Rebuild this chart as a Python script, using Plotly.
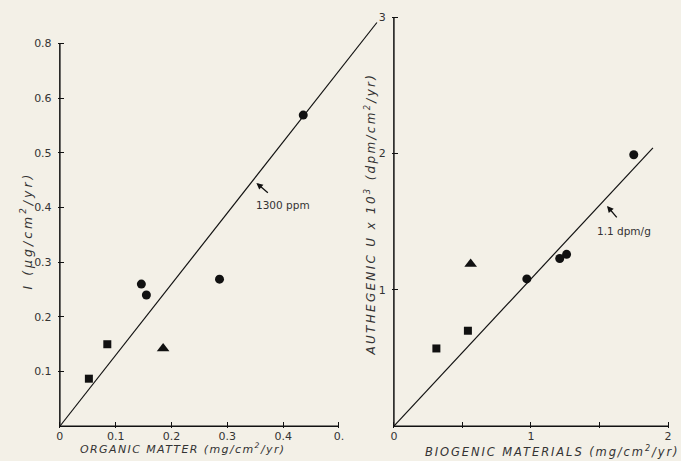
import plotly.graph_objects as go

# ---- data ----
# Left panel: I flux vs organic matter flux
om_sq_x = [0.052, 0.085]
om_sq_y = [0.087, 0.150]
om_ci_x = [0.146, 0.155, 0.286, 0.436]
om_ci_y = [0.260, 0.240, 0.269, 0.569]
om_tr_x = [0.185]
om_tr_y = [0.142]
om_line_x = [0.0, 0.568]
om_line_slope = 1.3          # 1300 ppm

# Right panel: authigenic U vs biogenic materials
bio_sq_x = [0.31, 0.54]
bio_sq_y = [0.57, 0.70]
bio_ci_x = [0.97, 1.21, 1.26, 1.75]
bio_ci_y = [1.08, 1.23, 1.26, 1.99]
bio_tr_x = [0.56]
bio_tr_y = [1.19]
bio_line_x = [0.0, 1.89]
bio_line_slope = 1.08        # labelled 1.1 dpm/g

left_xticks = [0, 0.1, 0.2, 0.3, 0.4, 0.5]
left_xticktext = ["0", "0.1", "0.2", "0.3", "0.4", "0."]
left_yticks = [0.1, 0.2, 0.3, 0.4, 0.5, 0.6, 0.7]
left_yticktext = ["0.1", "0.2", "0.3", "0.4", "0.5", "0.6", "0.8"]
right_xticks = [0, 0.5, 1, 1.5, 2]
right_xticktext = ["0", " ", "1", " ", "2"]
right_yticks = [1, 2, 3]
right_yticktext = ["1", "2", "3"]

BG = "#f3f0e7"
INK = "#111111"
TXT = "#333333"
FONT = "DejaVu Sans"

fig = go.Figure()

def panel(xa, ya, sqx, sqy, cix, ciy, trx, try_, lx, slope, xmax, ymax):
    fig.add_trace(go.Scatter(x=[0, xmax], y=[0, 0], mode="lines",
                             line=dict(color=INK, width=1.5), xaxis=xa, yaxis=ya,
                             hoverinfo="skip"))
    fig.add_trace(go.Scatter(x=[0, 0], y=[0, ymax], mode="lines",
                             line=dict(color=INK, width=1.5), xaxis=xa, yaxis=ya,
                             hoverinfo="skip"))
    fig.add_trace(go.Scatter(x=lx, y=[v * slope for v in lx], mode="lines",
                             line=dict(color=INK, width=1.2), xaxis=xa, yaxis=ya))
    fig.add_trace(go.Scatter(x=sqx, y=sqy, mode="markers",
                             marker=dict(symbol="square", size=8, color=INK),
                             xaxis=xa, yaxis=ya, cliponaxis=False))
    fig.add_trace(go.Scatter(x=cix, y=ciy, mode="markers",
                             marker=dict(symbol="circle", size=9, color=INK),
                             xaxis=xa, yaxis=ya, cliponaxis=False))
    fig.add_trace(go.Scatter(x=trx, y=try_, mode="markers",
                             marker=dict(symbol="triangle-up", size=11, color=INK),
                             xaxis=xa, yaxis=ya, cliponaxis=False))

panel("x", "y", om_sq_x, om_sq_y, om_ci_x, om_ci_y, om_tr_x, om_tr_y,
      om_line_x, om_line_slope, 0.5, 0.7)
panel("x2", "y2", bio_sq_x, bio_sq_y, bio_ci_x, bio_ci_y, bio_tr_x, bio_tr_y,
      bio_line_x, bio_line_slope, 2.0, 3.0)

tickfont = dict(family=FONT, size=11, color=TXT)
common = dict(showgrid=False, zeroline=False, showline=False, ticks="inside",
              ticklen=6, tickwidth=1.2, tickcolor=INK, tickfont=tickfont,
              tickmode="array")

fig.update_layout(
    width=681, height=461,
    margin=dict(l=0, r=0, t=0, b=0),
    paper_bgcolor=BG, plot_bgcolor=BG,
    showlegend=False,
    xaxis=dict(domain=[0.0834, 0.5553], range=[-0.004, 0.57],
               tickvals=left_xticks, ticktext=left_xticktext, anchor="y", **common),
    yaxis=dict(domain=[0.0711, 0.9653], range=[-0.004, 0.745],
               tickvals=left_yticks, ticktext=left_yticktext, anchor="x",
               ticklabelstandoff=5, **common),
    xaxis2=dict(domain=[0.5756, 0.9864], range=[-0.015, 2.02],
                tickvals=right_xticks, ticktext=right_xticktext, anchor="y2", **common),
    yaxis2=dict(domain=[0.0715, 0.9753], range=[-0.015, 3.02],
                tickvals=right_yticks, ticktext=right_yticktext, anchor="x2",
                ticklabelstandoff=5, **common),
)

def sp(px):
    return '<span style="letter-spacing:%.1fpx">' % px

ann = [
    dict(text=sp(3.0) + "<i>I (µg/cm<sup>2</sup>/yr)</i></span>", xref="paper", yref="paper",
         x=25 / 681, y=1 - 229 / 461, textangle=-90, showarrow=False,
         font=dict(family=FONT, size=12.5, color=TXT),
         xanchor="center", yanchor="middle"),
    dict(text=sp(1.4) + "<i>ORGANIC MATTER (mg/cm<sup>2</sup>/yr)</i></span>", xref="paper",
         yref="paper", x=183 / 681, y=1 - 448 / 461, showarrow=False,
         font=dict(family=FONT, size=11, color=TXT),
         xanchor="center", yanchor="middle"),
    dict(text=sp(2.3) + "<i>AUTHEGENIC U x 10<sup>3</sup> (dpm/cm<sup>2</sup>/yr)</i></span>",
         xref="paper", yref="paper", x=370 / 681, y=1 - 212 / 461, textangle=-90,
         showarrow=False, font=dict(family=FONT, size=12, color=TXT),
         xanchor="center", yanchor="middle"),
    dict(text=sp(1.9) + "<i>BIOGENIC MATERIALS (mg/cm<sup>2</sup>/yr)</i></span>", xref="paper",
         yref="paper", x=553 / 681, y=1 - 451 / 461, showarrow=False,
         font=dict(family=FONT, size=11.5, color=TXT),
         xanchor="center", yanchor="middle"),
    dict(text="1300 ppm", xref="x", yref="y", x=0.40, y=0.405, showarrow=False,
         font=dict(family=FONT, size=10.5, color=TXT)),
    dict(text="", xref="x", yref="y", x=0.352, y=0.445, ax=13, ay=11,
         showarrow=True, arrowhead=2, arrowsize=1, arrowwidth=1.3, arrowcolor=INK),
    dict(text="1.1 dpm/g", xref="x2", yref="y2", x=1.68, y=1.43, showarrow=False,
         font=dict(family=FONT, size=10.5, color=TXT)),
    dict(text="", xref="x2", yref="y2", x=1.555, y=1.615, ax=11, ay=13,
         showarrow=True, arrowhead=2, arrowsize=1, arrowwidth=1.3, arrowcolor=INK),
]
fig.update_layout(annotations=ann)

fig.write_html("out.html", config={"displayModeBar": False},
               post_script="document.body.style.margin='0';")
